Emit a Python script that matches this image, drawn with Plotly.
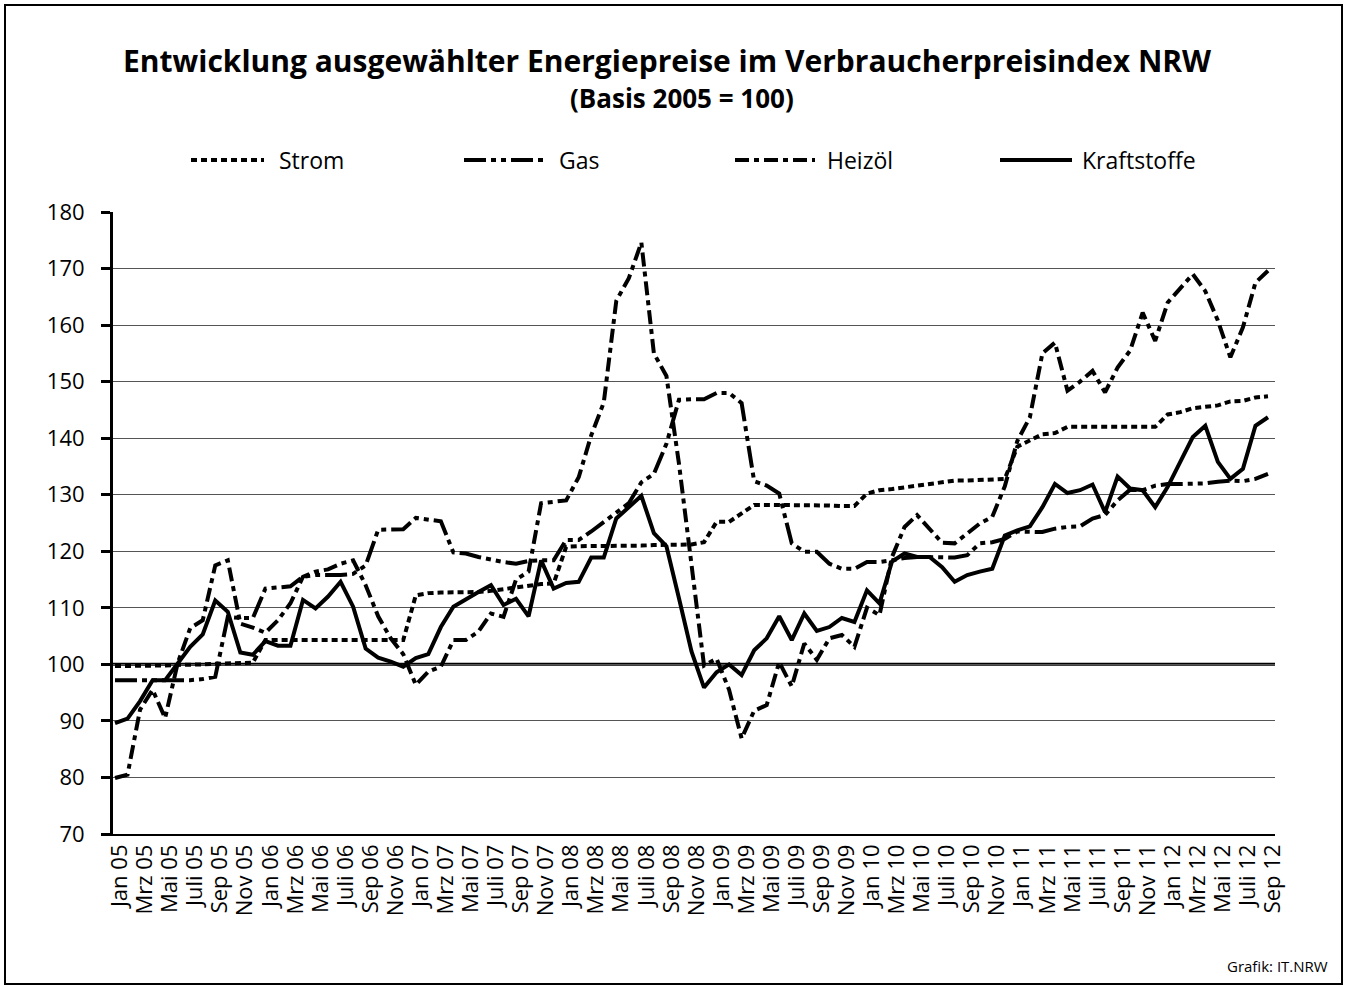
import plotly.graph_objects as go

# ---------------- data ----------------
month_names = ["Jan", "Feb", "Mrz", "Apr", "Mai", "Jun", "Juli", "Aug", "Sep", "Okt", "Nov", "Dez"]
years = ["05", "06", "07", "08", "09", "10", "11", "12"]
categories = [f"{m} {y}" for y in years for m in month_names][:93]  # Jan 05 .. Sep 12
tick_labels = categories[::2]

strom = [
    99.7, 99.7, 99.7, 99.8, 99.8, 99.9, 99.9, 100.0, 100.1, 100.2, 100.2, 100.3,
    104.3, 104.3, 104.3, 104.3, 104.3, 104.3, 104.3, 104.3, 104.3, 104.3, 104.3, 104.3,
    112.2, 112.6, 112.7, 112.7, 112.8, 112.8, 113.0, 113.3, 113.6, 114.0, 114.2, 114.3,
    120.8, 120.9, 120.9, 121.0, 121.0, 121.0, 121.0, 121.1, 121.1, 121.2, 121.2, 121.6,
    125.2, 125.2, 126.8, 128.2, 128.2, 128.2, 128.2, 128.2, 128.1, 128.1, 128.0, 128.0,
    130.2, 130.8, 131.0, 131.3, 131.6, 131.8, 132.1, 132.5, 132.5, 132.6, 132.7, 132.8,
    138.5, 139.6, 140.7, 140.9, 142.0, 142.0, 142.0, 142.0, 142.0, 142.0, 142.0, 142.0,
    144.2, 144.6, 145.3, 145.6, 145.8, 146.5, 146.6, 147.2, 147.4,
]

gas = [
    97.2, 97.2, 97.2, 97.2, 97.2, 97.2, 97.2, 97.4, 97.8, 108.4, 108.2, 108.2,
    113.4, 113.6, 113.8, 115.5, 115.8, 115.8, 115.8, 116.0, 117.5, 123.8, 123.8, 123.9,
    125.9, 125.6, 125.3, 119.8, 119.6, 119.0, 118.5, 118.1, 117.8, 118.3, 118.4, 118.4,
    122.0, 122.0, 123.5, 125.2, 126.8, 128.5, 132.2, 133.7, 139.0, 146.8, 146.9, 146.9,
    148.0, 148.0, 146.2, 132.4, 131.6, 130.2, 121.4, 119.9, 119.9, 117.8, 116.9, 116.9,
    118.1, 118.1, 118.4, 118.8, 119.0, 119.0, 118.9, 118.9, 119.3, 121.4, 121.6, 122.2,
    123.5, 123.5, 123.4, 124.0, 124.3, 124.4, 125.8, 126.4, 129.0, 130.9, 130.8, 131.6,
    131.9, 131.9, 131.9, 132.0, 132.3, 132.5, 132.4, 132.8, 133.7,
]

heizoel = [
    79.9, 80.5, 92.0, 95.5, 90.5, 100.2, 106.4, 107.8, 117.5, 118.4, 107.2, 106.5,
    105.6, 107.8, 110.8, 115.5, 116.4, 116.8, 117.8, 118.4, 114.0, 108.5, 104.6, 101.8,
    96.4, 98.7, 99.6, 104.3, 104.3, 105.8, 109.0, 108.4, 115.0, 116.4, 128.5, 128.7,
    129.0, 133.1, 140.5, 146.3, 164.3, 168.3, 174.6, 155.0, 151.0, 135.5, 118.0, 99.8,
    101.0, 95.5, 86.9, 91.8, 92.8, 100.4, 96.1, 103.7, 100.8, 104.6, 105.2, 103.1,
    110.0, 108.7, 119.0, 124.3, 126.4, 124.0, 121.5, 121.4, 123.1, 124.9, 126.1, 131.5,
    139.5, 143.7, 155.0, 156.9, 148.4, 150.0, 151.9, 148.1, 152.5, 155.5, 162.2, 157.2,
    164.0, 166.6, 169.0, 166.0, 160.8, 154.3, 159.6, 167.5, 169.6,
]

kraftstoffe = [
    89.6, 90.4, 93.5, 97.2, 97.2, 100.2, 103.1, 105.3, 111.3, 109.3, 102.1, 101.7,
    104.1, 103.3, 103.3, 111.4, 109.9, 112.0, 114.6, 110.2, 102.8, 101.2, 100.5, 99.6,
    101.1, 101.8, 106.6, 110.2, 111.6, 112.8, 114.0, 110.5, 111.6, 108.5, 118.4, 113.4,
    114.4, 114.6, 118.9, 118.9, 125.8, 127.8, 129.8, 123.2, 120.9, 111.7, 102.3, 95.9,
    98.6, 100.0, 98.1, 102.5, 104.6, 108.5, 104.3, 109.0, 105.9, 106.6, 108.2, 107.5,
    113.1, 110.8, 118.2, 119.6, 119.0, 119.0, 117.2, 114.6, 115.8, 116.4, 116.9, 122.8,
    123.7, 124.4, 127.8, 131.9, 130.3, 130.8, 131.8, 126.9, 133.2, 131.1, 130.8, 127.8,
    131.4, 135.8, 140.2, 142.2, 135.8, 132.8, 134.6, 142.2, 143.7,
]

series_names = ["Strom", "Gas", "Heizöl", "Kraftstoffe"]
series_values = [strom, gas, heizoel, kraftstoffe]

# ---------------- styling ----------------
W, H = 1348, 987
L, R, T, B = 113, 1275, 212, 834  # plot area in px
FONT = "Open Sans"
dashes = {
    "Strom": "6px,4px",
    "Gas": "22px,5px,5px,5px,5px,5px",
    "Heizöl": "14px,5px,5px,5px",
    "Kraftstoffe": "solid",
}
LW = 4


def px(x):
    return (x - L) / (R - L)


def py(y):
    return (B - y) / (B - T)


fig = go.Figure()
for name, vals in zip(series_names, series_values):
    fig.add_trace(go.Scatter(
        x=categories, y=vals, mode="lines", name=name,
        line=dict(color="black", width=LW, dash=dashes[name]),
        showlegend=False,
    ))

shapes = []
# 100 base line
shapes.append(dict(type="line", xref="paper", yref="y", x0=0, x1=1, y0=100, y1=100,
                   line=dict(color="black", width=3), layer="below"))
# outer frame
shapes.append(dict(type="rect", xref="paper", yref="paper",
                   x0=px(5), x1=px(1342), y0=py(5), y1=py(984),
                   line=dict(color="black", width=2), layer="below"))

annotations = []
# manual legend
legend_items = [("Strom", 191, 264, 277), ("Gas", 464, 546, 557),
                ("Heizöl", 735, 815, 825), ("Kraftstoffe", 1000, 1072, 1080)]
for name, x0, x1, tx in legend_items:
    shapes.append(dict(type="line", xref="paper", yref="paper",
                       x0=px(x0), x1=px(x1), y0=py(160), y1=py(160),
                       line=dict(color="black", width=LW, dash=dashes[name])))
    annotations.append(dict(text=name, xref="paper", yref="paper", x=px(tx), y=py(160),
                            xanchor="left", yanchor="middle", showarrow=False,
                            font=dict(family=FONT, size=23, color="black")))

annotations.append(dict(text="<b>Entwicklung ausgewählter Energiepreise im Verbraucherpreisindex NRW</b>",
                        xref="paper", yref="paper", x=px(667), y=py(60),
                        xanchor="center", yanchor="middle", showarrow=False,
                        font=dict(family=FONT, size=30, color="black")))
annotations.append(dict(text="<b>(Basis 2005 = 100)</b>",
                        xref="paper", yref="paper", x=px(682), y=py(98),
                        xanchor="center", yanchor="middle", showarrow=False,
                        font=dict(family=FONT, size=26, color="black")))
annotations.append(dict(text="Grafik: IT.NRW", xref="paper", yref="paper",
                        x=px(1330), y=py(966), xanchor="right", yanchor="middle",
                        showarrow=False, font=dict(family=FONT, size=15, color="black")))

fig.update_layout(
    width=W, height=H,
    margin=dict(l=L, r=W - R, t=T, b=H - B, pad=0),
    paper_bgcolor="white", plot_bgcolor="white",
    font=dict(family=FONT, color="black"),
    shapes=shapes, annotations=annotations,
    showlegend=False,
)
fig.update_xaxes(
    type="category", range=[-0.16, 92.56],
    tickmode="array", tickvals=tick_labels, ticktext=tick_labels,
    tickangle=-90, tickfont=dict(family=FONT, size=22, color="black"),
    ticklabelshift=5,
    showgrid=False, showline=True, linecolor="black", linewidth=1.5,
    ticks="", zeroline=False,
)
fig.update_yaxes(
    range=[70, 180], dtick=10, tick0=70,
    tickfont=dict(family=FONT, size=22, color="black"),
    ticklabelstandoff=12,
    showgrid=True, gridcolor="#555555", gridwidth=1.2,
    showline=True, linecolor="black", linewidth=3,
    ticks="outside", ticklen=9, tickwidth=3, tickcolor="black",
    zeroline=False,
)

fig.write_html("out.html", config={"displayModeBar": False},
               post_script="document.body.style.margin='0px';")
